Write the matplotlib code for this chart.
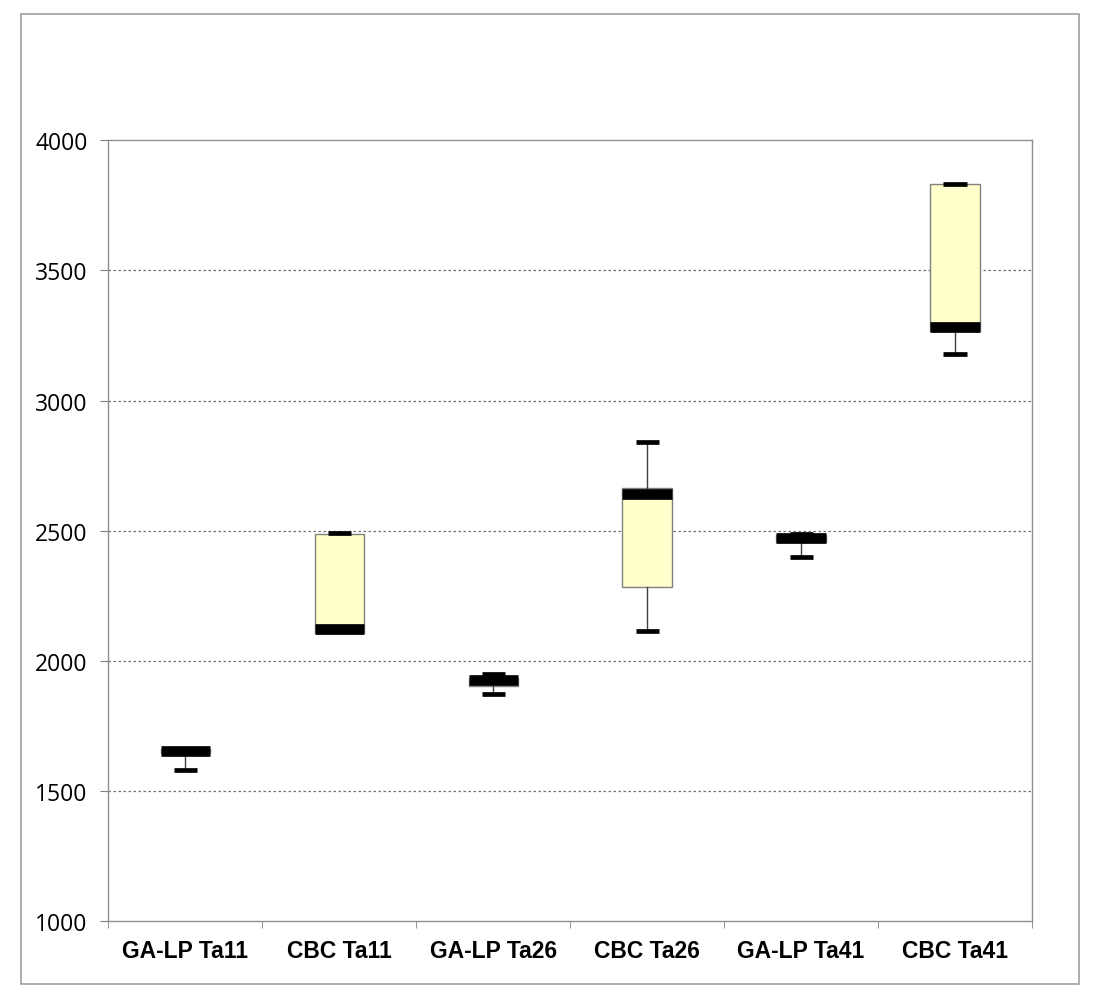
import matplotlib
matplotlib.use('Agg')
import matplotlib.pyplot as plt
from matplotlib.patches import Rectangle
import numpy as np

# box plot stats
labels = ['GA-LP Ta11', 'CBC Ta11', 'GA-LP Ta26', 'CBC Ta26', 'GA-LP Ta41', 'CBC Ta41']
mins = [1582, 2118, 1872, 2115, 2400, 3179]
q1s = [1645, 2106, 1903, 2284, 2455, 3268]
medians = [1655, 2123, 1927, 2639, 2470, 3283]
q3s = [1662, 2489, 1935, 2663, 2485, 3832]
maxs = [1662, 2490, 1948, 2840, 2488, 3831]

yticks = [1000, 1500, 2000, 2500, 3000, 3500, 4000]


def draw():
    fig = plt.figure(figsize=(10.99, 10.03), dpi=100)
    ax = fig.add_axes([108.3 / 1099, 81 / 1003, (1032 - 108.3) / 1099, (922 - 141.3) / 1003])

    # outer chart frame
    fig.patches.append(Rectangle((21 / 1099, 18 / 1003), 1058 / 1099, 970 / 1003,
                                 transform=fig.transFigure, fill=False,
                                 edgecolor='#a0a0a0', linewidth=1.2))

    stats = []
    for i in range(len(labels)):
        stats.append(dict(med=medians[i], q1=q1s[i], q3=q3s[i],
                          whislo=mins[i], whishi=maxs[i], label=labels[i]))

    pos = np.arange(len(labels))
    ax.bxp(stats, positions=pos, widths=0.32, capwidths=0.15, patch_artist=True,
           showfliers=False,
           boxprops=dict(facecolor='#ffffcc', edgecolor='#808080', linewidth=1.0),
           medianprops=dict(color='black', linewidth=7.7, solid_capstyle='butt'),
           whiskerprops=dict(color='#404040', linewidth=1.0),
           capprops=dict(color='black', linewidth=3.4, solid_capstyle='butt'),
           zorder=3)

    ax.set_xlim(-0.5, len(labels) - 0.5)
    ax.set_ylim(1000, 4000)
    ax.set_yticks(yticks)
    ax.set_yticklabels([str(t) for t in yticks], fontfamily='Open Sans', fontsize=16.5)
    ax.set_xticks(pos)
    ax.set_xticklabels(labels, fontfamily='Liberation Sans', fontweight='bold', fontsize=16.5)
    ax.set_xticks(np.arange(len(labels) + 1) - 0.5, minor=True)
    ax.tick_params(axis='x', which='major', length=0, pad=13)
    ax.tick_params(axis='x', which='minor', length=5, color='#808080', direction='out')
    ax.tick_params(axis='y', length=6, color='#808080', pad=9, direction='out')

    for g in yticks[1:-1]:
        ax.axhline(g, color='#707070', linestyle=(0, (2, 2)), linewidth=0.9, zorder=1)

    for s in ax.spines.values():
        s.set_color('#909090')
        s.set_linewidth(1.0)

    fig.savefig('out.png', dpi=100)


def main():
    draw()

if __name__ == '__main__':
    main()
